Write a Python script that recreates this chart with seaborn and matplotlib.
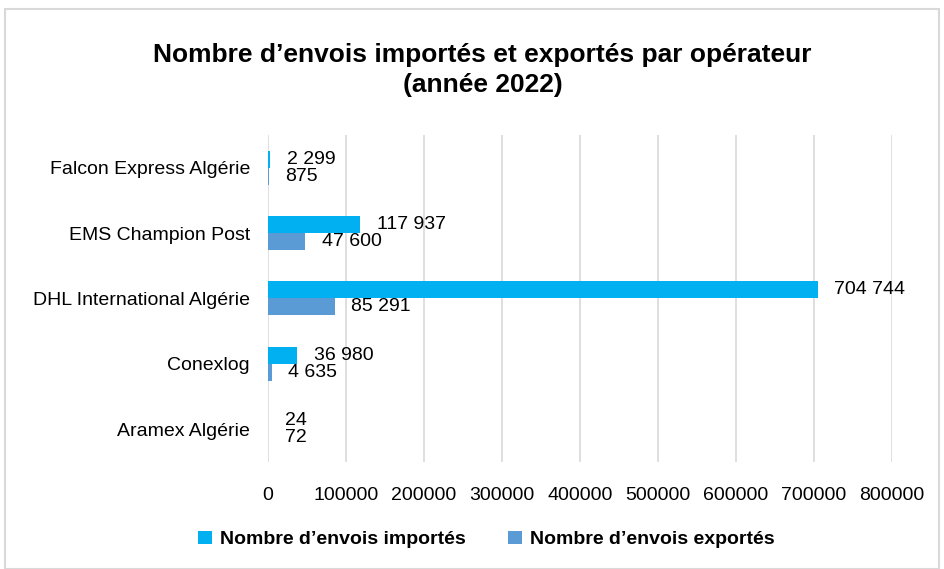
import pandas as pd
import matplotlib.pyplot as plt
import matplotlib.ticker as mticker
import seaborn as sns

# Data
operateurs = ['Falcon Express Algérie', 'EMS Champion Post', 'DHL International Algérie',
              'Conexlog', 'Aramex Algérie']
importes = [2299, 117937, 704744, 36980, 24]
exportes = [875, 47600, 85291, 4635, 72]
series = ["Nombre d’envois importés", "Nombre d’envois exportés"]
ticks = [0, 100000, 200000, 300000, 400000, 500000, 600000, 700000, 800000]

df = pd.DataFrame({
    'Opérateur': operateurs * 2,
    'Envois': importes + exportes,
    'Type': [series[0]] * len(operateurs) + [series[1]] * len(operateurs),
})

sns.set_theme(style='white')
plt.rcParams['font.family'] = ['Liberation Sans', 'DejaVu Sans']
plt.rcParams['text.color'] = '#000000'

fig = plt.figure(figsize=(9.44, 5.69), dpi=100)
ax = fig.add_axes([0.284, 0.188, 0.661, 0.575])

sns.barplot(data=df, y='Opérateur', x='Envois', hue='Type', orient='h',
            palette=['#00B0F0', '#5B9BD5'], width=0.52, saturation=1,
            linewidth=0, ax=ax, zorder=2)

for cont in ax.containers:
    ax.bar_label(cont, labels=[f'{v:,.0f}'.replace(',', ' ') for v in cont.datavalues],
                 padding=12, fontsize=14, color='#000000')

ax.set_xlim(0, 800000)
ax.set_xticks(ticks)
ax.xaxis.set_major_formatter(mticker.FuncFormatter(lambda x, _: f'{x:.0f}'))
ax.grid(axis='x', color='#D9D9D9', linewidth=1.2, zorder=0)
ax.set_axisbelow(True)
for s in ax.spines.values():
    s.set_visible(False)
ax.tick_params(axis='both', labelsize=14, length=0, colors='#000000')
ax.tick_params(axis='y', pad=13)
ax.tick_params(axis='x', pad=18)
ax.set_xlabel('')
ax.set_ylabel('')

fig.suptitle('Nombre d’envois importés et exportés par opérateur\n(année 2022)',
             fontsize=19, fontweight='bold', y=0.925, x=0.511, linespacing=1.35,
             color='#000000')

ax.legend(loc='center', bbox_to_anchor=(0.515, 0.052), bbox_transform=fig.transFigure,
          ncol=2, frameon=False, prop={'size': 14, 'weight': 'bold'},
          handlelength=0.7, handleheight=0.7, columnspacing=2.2, handletextpad=0.4)

fig.patches.append(plt.Rectangle((0.005, 0.0), 0.99, 0.985, transform=fig.transFigure,
                                 fill=False, edgecolor='#D9D9D9', linewidth=1.5))

plt.savefig('out.png', dpi=100)
plt.close()
